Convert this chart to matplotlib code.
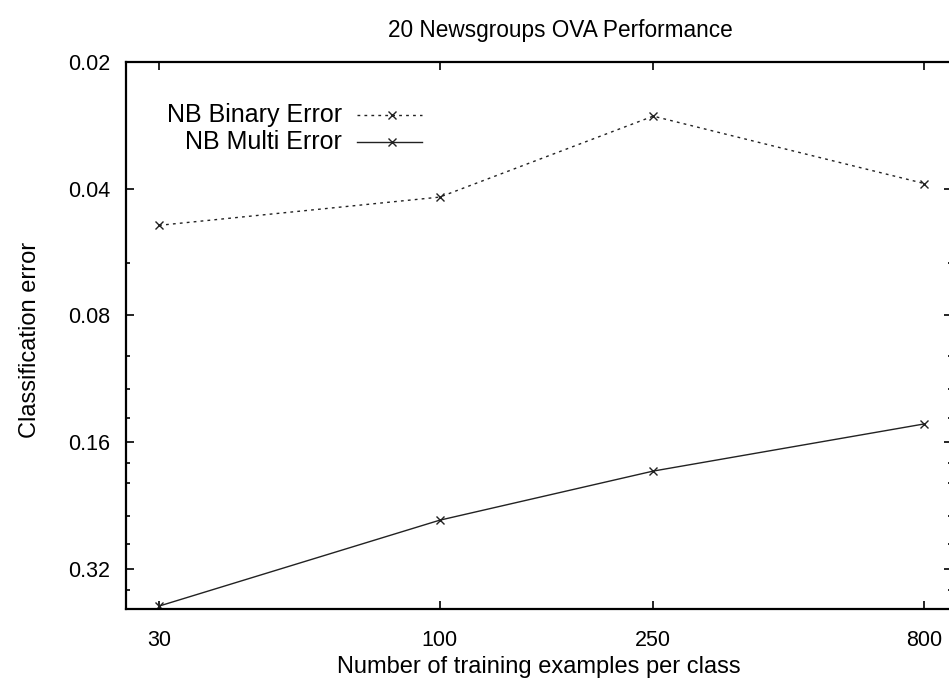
import matplotlib
matplotlib.use("Agg")
import matplotlib.pyplot as plt
from matplotlib.ticker import FixedLocator, FixedFormatter, NullLocator
from matplotlib.lines import Line2D

plt.rcParams['font.family'] = ['Liberation Sans', 'DejaVu Sans']

# data
sizes = [30, 100, 250, 800]
nb_binary = [0.0489, 0.0419, 0.0269, 0.0389]
nb_multi = [0.393, 0.2456, 0.1877, 0.145]

y_major = [0.02, 0.04, 0.08, 0.16, 0.32]
y_major_labels = ["0.02", "0.04", "0.08", "0.16", "0.32"]
y_minor = [0.06, 0.10, 0.12, 0.14, 0.18, 0.20, 0.24, 0.28, 0.36]
x_labels = ["30", "100", "250", "800"]

fig = plt.figure(figsize=(9.49, 6.85), dpi=100)
# right border sits just past the image edge, as in the reference
ax = fig.add_axes([0.1325, 0.1105, 0.8704, 0.799])

ax.plot(sizes, nb_binary, color='#222222', lw=1.0, ls=(0, (2, 3)),
        marker='x', ms=6, mew=1.0)
ax.plot(sizes, nb_multi, color='#222222', lw=1.0, ls='-',
        marker='x', ms=6, mew=1.0)

ax.set_xscale('log')
ax.set_yscale('log', base=2)
ax.set_xlim(26, 900)
ax.set_ylim(0.4, 0.02)

ax.xaxis.set_major_locator(FixedLocator(sizes))
ax.xaxis.set_major_formatter(FixedFormatter(x_labels))
ax.xaxis.set_minor_locator(NullLocator())
ax.yaxis.set_major_locator(FixedLocator(y_major))
ax.yaxis.set_major_formatter(FixedFormatter(y_major_labels))
ax.yaxis.set_minor_locator(FixedLocator(y_minor))
ax.yaxis.set_minor_formatter(FixedFormatter([""] * len(y_minor)))

ax.tick_params(which='both', direction='in', top=True, right=True,
               labelsize=15.5, width=1.2, colors='black')
ax.tick_params(which='major', length=6)
ax.tick_params(axis='y', which='major', pad=11.3)
ax.tick_params(axis='x', which='major', pad=14.8)
ax.tick_params(which='minor', length=3)
for s in ax.spines.values():
    s.set_linewidth(1.6)

ax.set_title("20 Newsgroups OVA Performance", fontsize=16.3, pad=18, x=0.526)
ax.set_xlabel("Number of training examples per class", fontsize=17, labelpad=4)
ax.set_ylabel("Classification error", fontsize=17, labelpad=19.5)
ax.yaxis.label.set_y(0.493)

# gnuplot-style key: right-aligned text, sample line on the right
labels = ["NB Binary Error", "NB Multi Error"]
styles = [(0, (2, 3)), '-']
for i, (lab, st) in enumerate(zip(labels, styles)):
    yk = 0.903 - i * 0.049
    ax.text(0.262, yk, lab, transform=ax.transAxes, ha='right', va='center',
            fontsize=18)
    ax.add_line(Line2D([0.280, 0.359], [yk, yk], transform=ax.transAxes,
                       color='#222222', lw=1.0, ls=st))
    ax.add_line(Line2D([0.322], [yk], transform=ax.transAxes,
                       color='#222222', marker='x', ms=6, mew=1.0, ls='none'))

fig.savefig("out.png", dpi=100)
